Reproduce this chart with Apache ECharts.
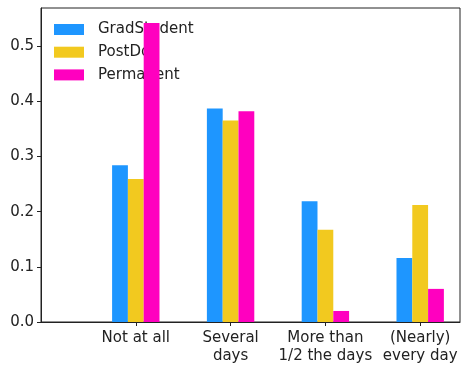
<!DOCTYPE html>
<html>
<head>
<meta charset="utf-8">
<script src="https://cdn.jsdelivr.net/npm/echarts@6/dist/echarts.min.js"></script>
<style>
html,body{margin:0;padding:0;background:#fff;}
#chart{width:461px;height:365px;}
</style>
</head>
<body>
<div id="chart"></div>
<script>
const categories = ["Not at all", "Several\ndays", "More than\n1/2 the days", "(Nearly)\nevery day"];
const seriesNames = ["GradStudent", "PostDoc", "Permanent"];
const gradStudent = [0.284, 0.387, 0.219, 0.116];
const postDoc = [0.259, 0.365, 0.167, 0.212];
const permanent = [0.542, 0.382, 0.020, 0.060];
const yTicks = [0.0, 0.1, 0.2, 0.3, 0.4, 0.5];
const colors = ["#1E96FF", "#F2C91F", "#FF00BF"];

const seriesValues = [gradStudent, postDoc, permanent];
const positions = categories.map((c, i) => i);
const font = "DejaVu Sans";

const chart = echarts.init(document.getElementById('chart'), null, {renderer: 'canvas'});
chart.setOption({
  animation: false,
  backgroundColor: '#fff',
  grid: {
    left: 41, right: 1, top: 8, bottom: 43,
    show: true, borderColor: '#222', borderWidth: 1, backgroundColor: 'transparent'
  },
  legend: {
    orient: 'vertical',
    left: 49, top: 17,
    itemWidth: 30, itemHeight: 11, itemGap: 7.7,
    z: 1,
    icon: 'rect',
    textStyle: {fontFamily: font, fontSize: 15, color: '#222', padding: [0, 0, 0, 9]},
    data: seriesNames
  },
  xAxis: {
    type: 'value',
    min: -1, max: 3.42,
    splitLine: {show: false},
    axisLine: {show: true, onZero: false, lineStyle: {color: '#222', width: 1}},
    axisTick: {show: true, length: 4, lineStyle: {color: '#222'}, customValues: positions},
    axisLabel: {
      customValues: positions,
      fontFamily: font, fontSize: 15, color: '#222', margin: 7, lineHeight: 18,
      formatter: v => categories[Math.round(v)] || ''
    }
  },
  yAxis: {
    type: 'value',
    min: 0, max: 0.569,
    splitLine: {show: false},
    axisLine: {show: true, onZero: false, lineStyle: {color: '#222', width: 1}},
    axisTick: {show: true, length: 4, lineStyle: {color: '#222'}, customValues: yTicks},
    axisLabel: {
      customValues: yTicks,
      fontFamily: font, fontSize: 15, color: '#222', margin: 7,
      formatter: v => v.toFixed(1)
    }
  },
  series: seriesNames.map((name, k) => ({
    name: name,
    type: 'bar',
    z: 3,
    barGap: '0%',
    barCategoryGap: '50%',
    itemStyle: {color: colors[k]},
    data: positions.map(i => [i, seriesValues[k][i]])
  }))
});
</script>
</body>
</html>
